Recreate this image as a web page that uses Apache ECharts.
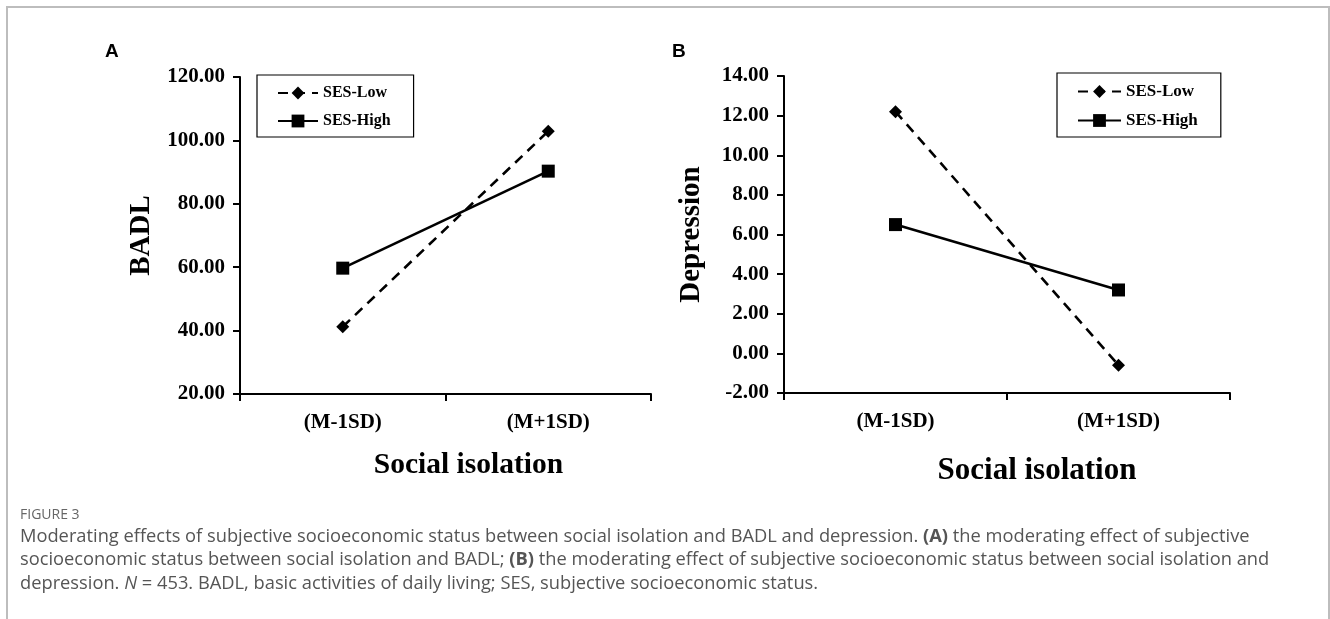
<!DOCTYPE html>
<html>
<head>
<meta charset="utf-8">
<script src="https://cdn.jsdelivr.net/npm/echarts@6/dist/echarts.min.js"></script>
<style>
  html, body { margin: 0; padding: 0; background: #fff; }
  #chart { width: 1330px; height: 619px; }
</style>
</head>
<body>
<div id="chart"></div>
<script>
// categories on the x axis of both panels
const categories = ['(M-1SD)', '(M+1SD)']
const seriesNames = ['SES-Low', 'SES-High']

// panel A: BADL
const badlLow = [41.2, 102.9]
const badlHigh = [59.7, 90.3]

// panel B: Depression
const depLow = [12.2, -0.6]
const depHigh = [6.5, 3.2]

const serif = '"Liberation Serif", "Times New Roman", serif'
const sans = '"Open Sans", "Noto Sans", sans-serif'
const capSize = 18.3

const chart = echarts.init(document.getElementById('chart'))

function makeSeries (name, data, idx) {
  const low = name === 'SES-Low'
  return {
    name: name,
    type: 'line',
    xAxisIndex: idx,
    yAxisIndex: idx,
    data: data,
    symbol: low ? 'diamond' : 'rect',
    symbolSize: 13,
    showSymbol: true,
    animation: false,
    itemStyle: { color: '#000' },
    lineStyle: { color: '#000', width: 2.6, type: low ? [10, 7] : 'solid' },
    z: low ? 3 : 2
  }
}

function xAxisOf (idx, nameGap, nameSize, shift) {
  return {
    type: 'category',
    gridIndex: idx,
    data: categories,
    boundaryGap: true,
    name: 'Social isolation',
    nameLocation: 'middle',
    nameGap: nameGap,
    nameTextStyle: {
      fontFamily: serif, fontWeight: 'bold', fontSize: nameSize, color: '#000',
      padding: [0, 0, 0, shift * 2]
    },
    axisLine: { onZero: false, lineStyle: { color: '#000', width: 2 } },
    axisTick: { show: true, length: 7, lineStyle: { color: '#000', width: 2 } },
    axisLabel: { fontFamily: serif, fontWeight: 'bold', fontSize: 21, color: '#000', margin: 18 },
    splitLine: { show: false }
  }
}

function yAxisOf (idx, name, min, max, interval, nameGap) {
  return {
    type: 'value',
    gridIndex: idx,
    min: min,
    max: max,
    interval: interval,
    name: name,
    nameLocation: 'middle',
    nameRotate: 90,
    nameGap: nameGap,
    nameTextStyle: { fontFamily: serif, fontWeight: 'bold', fontSize: 29, color: '#000' },
    axisLine: { show: true, onZero: false, lineStyle: { color: '#000', width: 2 } },
    axisTick: { show: true, length: 7, lineStyle: { color: '#000', width: 2 } },
    axisLabel: {
      fontFamily: serif, fontWeight: 'bold', fontSize: 21, color: '#000', margin: 15,
      formatter: v => v.toFixed(2)
    },
    splitLine: { show: false }
  }
}

function legendOf (left, top, fontSize, itemWidth, padding) {
  return {
    orient: 'vertical',
    left: left,
    top: top,
    data: seriesNames,
    borderColor: '#000',
    borderWidth: 1.2,
    padding: padding,
    itemGap: 12,
    itemWidth: itemWidth,
    itemHeight: 16,
    textStyle: { fontFamily: serif, fontWeight: 'bold', fontSize: fontSize, color: '#000' },
    selectedMode: false
  }
}

const option = {
  backgroundColor: '#fff',
  animation: false,
  grid: [
    { left: 240, top: 77, width: 411, height: 317 },
    { left: 784, top: 76, width: 446, height: 317 }
  ],
  xAxis: [xAxisOf(0, 56, 29.5, 23), xAxisOf(1, 62, 31, 30)],
  yAxis: [
    yAxisOf(0, 'BADL', 20, 120, 20, 84),
    yAxisOf(1, 'Depression', -2, 14, 2, 78)
  ],
  legend: [
    legendOf(257, 75, 16, 40, [10, 23, 8, 20]),
    legendOf(1057, 73, 17, 43, [10, 23, 8, 20])
  ],
  series: [
    makeSeries('SES-Low', badlLow, 0),
    makeSeries('SES-High', badlHigh, 0),
    makeSeries('SES-Low', depLow, 1),
    makeSeries('SES-High', depHigh, 1)
  ],
  graphic: [
    {
      type: 'rect', silent: true,
      shape: { x: 7, y: 7, width: 1322, height: 700 },
      style: { fill: null, stroke: '#bdbdbd', lineWidth: 2 }
    },
    {
      type: 'text', left: 105, top: 42,
      style: { text: 'A', font: 'bold 19px "Liberation Sans", Arial, sans-serif', fill: '#000' }
    },
    {
      type: 'text', left: 672, top: 42,
      style: { text: 'B', font: 'bold 19px "Liberation Sans", Arial, sans-serif', fill: '#000' }
    },
    {
      type: 'text', left: 20, top: 508,
      style: { text: 'FIGURE 3', font: '14px ' + sans, fill: '#666' }
    },
    {
      type: 'text', left: 20, top: 528,
      style: {
        text: 'Moderating effects of subjective socioeconomic status between social isolation and BADL and depression. {b|(A)} the moderating effect of subjective',
        font: capSize + 'px ' + sans, fill: '#555',
        rich: { b: { fontWeight: 'bold', fontFamily: sans, fontSize: capSize, fill: '#555' } }
      }
    },
    {
      type: 'text', left: 20, top: 551,
      style: {
        text: 'socioeconomic status between social isolation and BADL; {b|(B)} the moderating effect of subjective socioeconomic status between social isolation and',
        font: capSize + 'px ' + sans, fill: '#555',
        rich: { b: { fontWeight: 'bold', fontFamily: sans, fontSize: capSize, fill: '#555' } }
      }
    },
    {
      type: 'text', left: 20, top: 575,
      style: {
        text: 'depression. {i|N} = 453. BADL, basic activities of daily living; SES, subjective socioeconomic status.',
        font: capSize + 'px ' + sans, fill: '#555',
        rich: { i: { fontStyle: 'italic', fontFamily: sans, fontSize: capSize, fill: '#555' } }
      }
    }
  ]
}

chart.setOption(option)
window.addEventListener('resize', () => chart.resize())
</script>
</body>
</html>
